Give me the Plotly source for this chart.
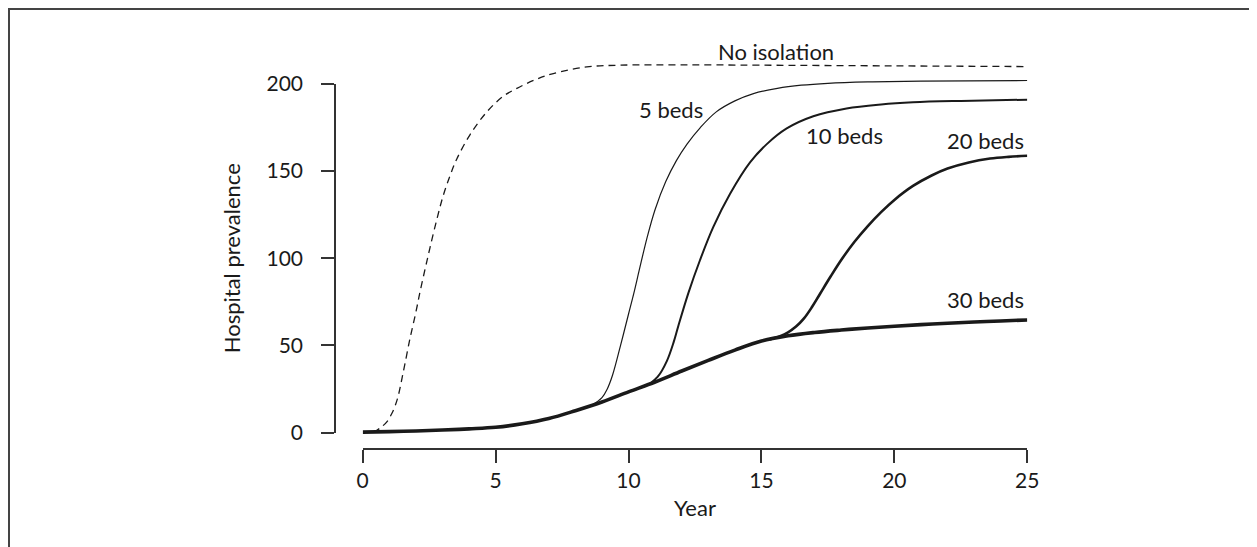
import plotly.graph_objects as go

# the page puts the plot 8px in from the top-left corner
W, H = 1249, 539
OFF = 8

# no isolation (dashed)
iso_year = [0.4, 0.65, 0.9, 1.1, 1.3, 1.53, 1.78, 2.0, 2.16, 2.35, 2.53, 2.8, 3.03, 3.3, 3.54, 4.04, 4.67, 5.29, 5.8, 6.5, 7.17, 8.43, 9.7, 12, 15, 20, 25]
iso_val = [0, 2.5, 6, 11, 19, 35, 54, 69, 81, 94, 106, 123, 136, 148, 157, 171, 184, 193, 197.5, 202.5, 206, 209.8, 210.8, 211, 210.8, 210.4, 210]

# 30 beds - also the common trunk of the other curves
base_year = [0, 1, 2, 3, 4, 5, 6, 7, 8, 9, 10, 11, 12, 13, 14, 15, 16, 17, 18, 19, 20, 21, 22, 23, 24, 25]
base_val = [0.2, 0.5, 0.9, 1.4, 2.1, 3.0, 5.0, 8.0, 12.5, 17.5, 23.3, 29.0, 35.3, 41.4, 47.3, 52.5, 55.5, 57.4, 58.8, 60.0, 61.0, 61.9, 62.7, 63.4, 64.0, 64.6]

b5_year = [8.6, 9.0, 9.2, 9.4, 9.7, 10.0, 10.2, 10.4, 10.7, 11.0, 11.4, 11.8, 12.2, 12.7, 13.3, 14.0, 14.7, 15.6, 16.5, 17.5, 19, 21, 25]
b5_val = [15.5, 20, 25, 33, 50, 68, 80, 93, 112, 128, 144, 156, 165.5, 175, 184, 190.3, 194.5, 197.5, 199.3, 200.4, 201.2, 201.7, 202]

b10_year = [10.8, 11.1, 11.44, 11.7, 11.87, 12.25, 12.69, 13.19, 13.82, 14.57, 15.2, 15.95, 16.95, 18.2, 19.5, 20.7, 22.5, 25]
b10_val = [28.0, 32, 41, 52, 61, 80, 99, 118, 137, 155, 165.5, 174.5, 181.5, 186, 188.3, 189.5, 190.3, 191]

b20_year = [15.3, 15.7, 16.0, 16.3, 16.6, 16.9, 17.2, 17.6, 18.0, 18.5, 19.0, 19.5, 20.0, 20.7, 21.4, 22.0, 22.8, 23.6, 24.3, 25]
b20_val = [53.4, 55.3, 57.5, 60.8, 65.5, 72, 79.5, 89.5, 99, 109.5, 118.5, 126.5, 133.5, 141.5, 147.5, 151.5, 155, 157.2, 158.2, 158.8]

labels = ["No isolation", "5 beds", "10 beds", "20 beds", "30 beds"]
label_x = [15.54, 11.59, 18.11, 23.41, 23.41]
label_y = [218.5, 185.1, 170.7, 167.5, 76.4]

ink = "#1a1a1a"
font = "Lato, 'Open Sans', sans-serif"

def curve(w, dash=None):
    return dict(color=ink, width=w, dash=dash, shape='spline', smoothing=1.0)

fig = go.Figure()
fig.add_scatter(x=iso_year, y=iso_val, mode='lines', line=curve(1.3, "7px,5px"))
fig.add_scatter(x=b5_year, y=b5_val, mode='lines', line=curve(1.2))
fig.add_scatter(x=b10_year, y=b10_val, mode='lines', line=curve(2.0))
fig.add_scatter(x=b20_year, y=b20_val, mode='lines', line=curve(2.6))
fig.add_scatter(x=base_year, y=base_val, mode='lines', line=curve(3.6))
# empty trace so the display axis (y2) gets a subplot
fig.add_scatter(x=[], y=[], xaxis='x', yaxis='y2', hoverinfo='skip')

for t, lx, ly in zip(labels, label_x, label_y):
    fig.add_annotation(text=t, x=lx, y=ly, xref='x', yref='y', showarrow=False,
                       font=dict(family=font, size=22, color=ink))

# pixel positions of the axes (window coordinates, shifted by the page offset)
x0px, x1px = 362.7 - OFF, 1027.3 - OFF
y0px, y200px = 432.5 - OFF, 84.0 - OFF
ybot, ytop = 448.0 - OFF, 40.0 - OFF
ylinex = 335.0 - OFF
pxu = (y0px - y200px) / 200.0

fig.update_layout(
    width=W, height=H, autosize=False,
    margin=dict(l=0, r=0, t=0, b=0),
    paper_bgcolor="white", plot_bgcolor="rgba(0,0,0,0)",
    showlegend=False,
    font=dict(family=font, size=21, color=ink),
    xaxis=dict(domain=[x0px / W, x1px / W], range=[0, 25], anchor='y',
               showline=True, linecolor="#333", linewidth=1.5,
               ticks='outside', ticklen=13, tickwidth=1.5, tickcolor="#333",
               tickvals=[0, 5, 10, 15, 20, 25], showgrid=False, zeroline=False,
               ticklabelstandoff=0, automargin=False,
               title=dict(text="Year", standoff=10, font=dict(size=22))),
    yaxis=dict(domain=[1 - ybot / H, 1 - ytop / H],
               range=[-(ybot - y0px) / pxu, 200 + (y200px - ytop) / pxu],
               visible=False, showgrid=False, zeroline=False),
    yaxis2=dict(domain=[1 - y0px / H, 1 - y200px / H], range=[0, 200],
                anchor='free', position=ylinex / W, side='left',
                showline=True, linecolor="#333", linewidth=1.5,
                ticks='outside', ticklen=13, tickwidth=1.5, tickcolor="#333",
                tickvals=[0, 50, 100, 150, 200], showgrid=False, zeroline=False,
                ticklabelstandoff=14, automargin=False,
                title=dict(text="Hospital prevalence", standoff=19, font=dict(size=22))),
)

# frame round the figure (runs off the right and bottom of the page)
fig.add_shape(type='rect', xref='paper', yref='paper', x0=(9 - OFF) / W, x1=1.05, y0=-0.05, y1=1 - (9 - OFF) / H,
              line=dict(color="#444", width=2))

fig.write_html("out.html")
